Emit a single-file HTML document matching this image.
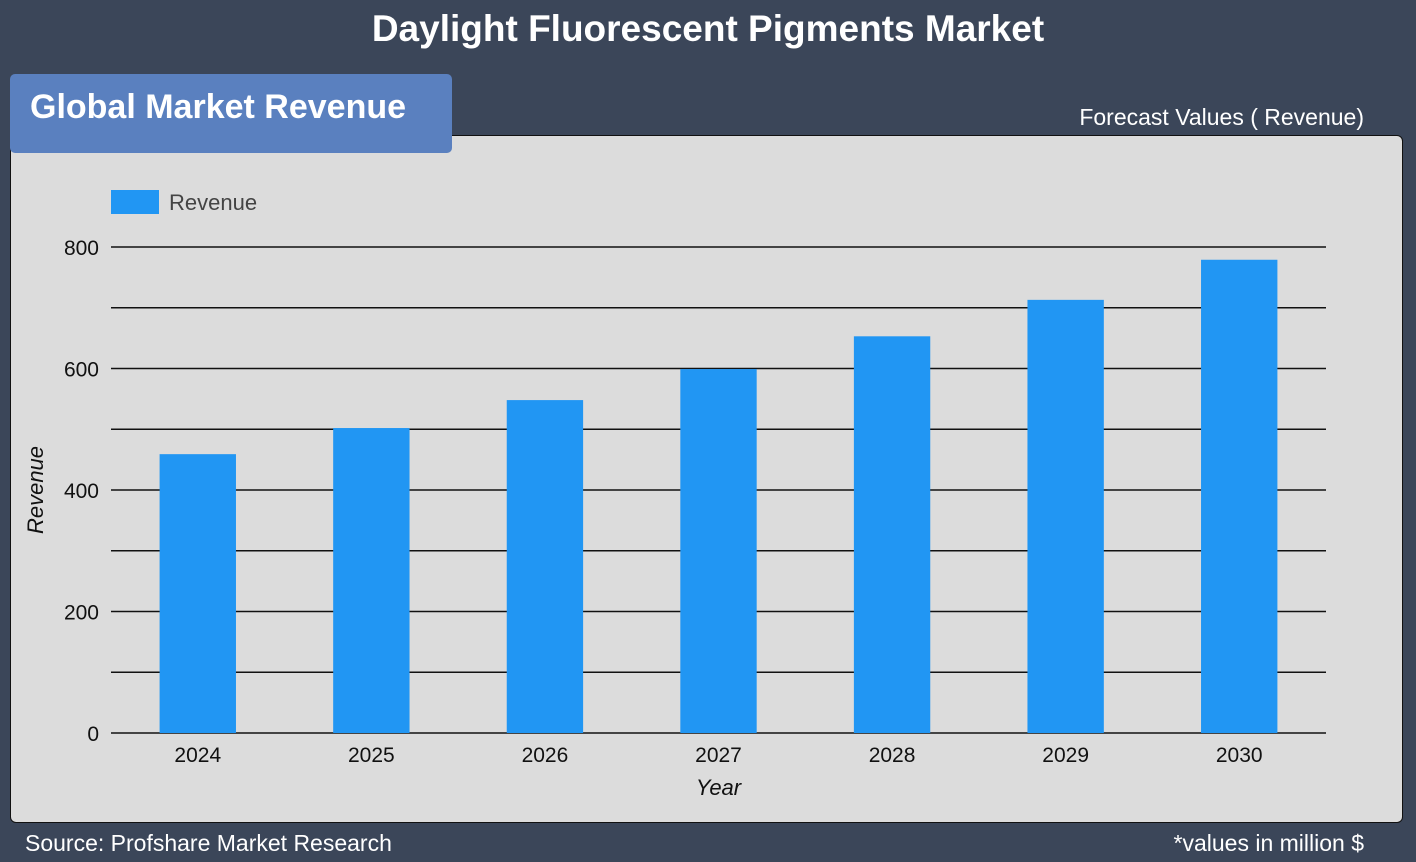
<!DOCTYPE html>
<html><head><meta charset="utf-8"><style>
body{margin:0;width:1416px;height:862px;background:#3b4659;font-family:"Liberation Sans",sans-serif;position:relative;overflow:hidden}
.t{position:absolute;color:#fff}
</style></head><body>
<div class="t" style="left:0;width:1416px;top:8px;text-align:center;font-size:37px;font-weight:bold">Daylight Fluorescent Pigments Market</div>
<div class="t" style="right:52px;top:104px;font-size:23px">Forecast Values ( Revenue)</div>
<div style="position:absolute;left:10px;top:135px;width:1391px;height:686px;background:#dcdcdc;border:1px solid #111;border-radius:6px"></div>
<div class="t" style="left:10px;top:74px;width:442px;height:79px;background:#5a80bf;border-radius:5px;box-sizing:border-box;padding:14px 0 0 20px;font-size:34px;font-weight:bold">Global Market Revenue</div>
<svg id="c" style="position:absolute;left:0;top:0" width="1416" height="862"></svg>
<div class="t" style="left:25px;top:830px;font-size:23px">Source: Profshare Market Research</div>
<div class="t" style="right:52px;top:830px;font-size:23px">*values in million $</div>
<script>
const categories=["2024","2025","2026","2027","2028","2029","2030"];
const revenue=[459,502,548,599,653,713,779];
const yTicks=[0,200,400,600,800];
const ns="http://www.w3.org/2000/svg",svg=document.getElementById('c');
const x0=111,x1=1326,y0=733,yTop=247,yMax=800;
const y=v=>y0-(v/yMax)*(y0-yTop);
const band=(x1-x0)/categories.length;
const xc=i=>x0+band*(i+0.5);
function mk(t,a,txt){const e=document.createElementNS(ns,t);for(const k in a)e.setAttribute(k,a[k]);if(txt!==undefined)e.textContent=txt;svg.appendChild(e);return e;}
for(let v=0;v<=yMax;v+=100){const l=mk('line',{x1:x0,x2:x1,y1:y(v),y2:y(v),stroke:'#111','stroke-width':1.5});

}
yTicks.forEach(v=>{const t=mk('text',{x:99,y:y(v)+8,'text-anchor':'end','font-size':21,fill:'#111'},v);

});
categories.forEach((c,i)=>{const w=band*0.44;
const r=mk('rect',{x:xc(i)-w/2,y:y(revenue[i]),width:w,height:y0-y(revenue[i]),fill:'#2196f3'});


const t=mk('text',{x:xc(i),y:762,'text-anchor':'middle','font-size':21,fill:'#111'},c);

});
const xt=mk('text',{x:x0+(x1-x0)/2,y:795,'text-anchor':'middle','font-size':22,'font-style':'italic',fill:'#111'},'Year');


const yt=mk('text',{x:0,y:0,transform:'translate(43,490) rotate(-90)','text-anchor':'middle','font-size':22,'font-style':'italic',fill:'#111'},'Revenue');


const ls=mk('rect',{x:111,y:190,width:48,height:24,fill:'#2196f3'});


const lt=mk('text',{x:169,y:210,'font-size':22,fill:'#444'},'Revenue');


</script>
</body></html>
